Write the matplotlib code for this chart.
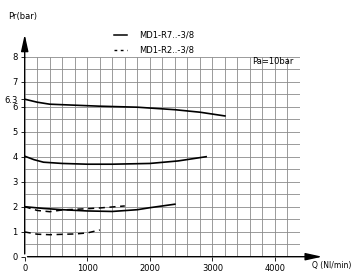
import numpy as np
import matplotlib.pyplot as plt

# Curves (Q in Nl/min, Pr in bar)
q_r7_6 = [0, 200, 400, 800, 1200, 1800, 2400, 2800, 3200]
p_r7_6 = [6.30, 6.18, 6.10, 6.06, 6.02, 5.98, 5.88, 5.78, 5.63]

q_r7_4 = [0, 150, 300, 600, 1000, 1400, 2000, 2450, 2900]
p_r7_4 = [4.02, 3.88, 3.78, 3.73, 3.70, 3.70, 3.73, 3.83, 4.00]

q_r7_2 = [0, 300, 600, 1000, 1400, 1800, 2000, 2400]
p_r7_2 = [2.00, 1.93, 1.88, 1.83, 1.81, 1.88, 1.96, 2.10]

q_r2_2 = [0, 200, 400, 600, 1000, 1200, 1600]
p_r2_2 = [2.00, 1.85, 1.80, 1.87, 1.92, 1.95, 2.03]

q_r2_1 = [0, 200, 400, 800, 1000, 1200]
p_r2_1 = [0.99, 0.90, 0.88, 0.91, 0.95, 1.07]

legend_labels = ['MD1-R7..-3/8', 'MD1-R2..-3/8']
x_ticks = [0, 1000, 2000, 3000, 4000]
y_ticks = [0, 1, 2, 3, 4, 5, 6, 6.3, 7, 8]

fig = plt.figure(figsize=(3.56, 2.79), dpi=100)
ax = fig.add_axes([0.0694, 0.0799, 0.7733, 0.7169])
ax.set_xlim(0, 4400)
ax.set_ylim(0, 8)

# grid drawn as plain lines (every 200 Nl/min and 0.5 bar)
ax.vlines(np.arange(200, 4401, 200), 0, 8, color='#8a8a8a', lw=0.6, zorder=0)
ax.hlines(np.arange(0.5, 8.01, 0.5), 0, 4400, color='#8a8a8a', lw=0.6, zorder=0)

ax.set_xticks(x_ticks)
ax.set_yticks(y_ticks)
ax.set_yticklabels([('%g' % t) for t in y_ticks])
ax.tick_params(which='major', length=3, width=0.6, labelsize=6, pad=2)

for s in ax.spines.values():
    s.set_visible(False)

# axes with arrows
ax.annotate('', xy=(0, 9.0), xytext=(0, 0), annotation_clip=False,
            arrowprops=dict(arrowstyle='-|>,head_length=1.0,head_width=0.22', color='black', lw=1.0))
ax.annotate('', xy=(4800, 0), xytext=(0, 0), annotation_clip=False,
            arrowprops=dict(arrowstyle='-|>,head_length=1.0,head_width=0.22', color='black', lw=1.0))

# curves
for q, p in [(q_r7_6, p_r7_6), (q_r7_4, p_r7_4), (q_r7_2, p_r7_2)]:
    ax.plot(q, p, color='black', lw=1.2)
for q, p in [(q_r2_2, p_r2_2), (q_r2_1, p_r2_1)]:
    ax.plot(q, p, color='black', lw=1.1, ls=(0, (4, 3)))

# legend drawn by hand above the grid
ax.plot([1435, 1640], [8.87, 8.87], color='black', lw=1.1, clip_on=False)
ax.plot([1435, 1640], [8.27, 8.27], color='black', lw=1.0, ls=(0, (2, 2.5)), clip_on=False)
ax.text(1830, 8.87, legend_labels[0], fontsize=6, va='center', ha='left')
ax.text(1830, 8.27, legend_labels[1], fontsize=6, va='center', ha='left')

ax.text(4300, 7.8, 'Pa=10bar', fontsize=6, va='center', ha='right')
ax.text(-270, 9.6, 'Pr(bar)', fontsize=6, va='center', ha='left')
ax.text(4590, -0.37, 'Q (Nl/min)', fontsize=5.5, va='center', ha='left')

fig.savefig('out.png', dpi=100)
